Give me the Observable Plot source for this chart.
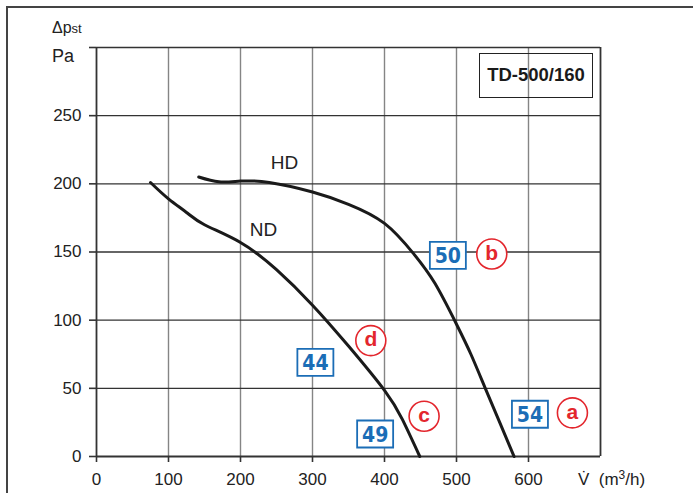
<!DOCTYPE html>
<html>
<head>
<meta charset="utf-8">
<script src="https://cdn.jsdelivr.net/npm/d3@7"></script>
<script src="https://cdn.jsdelivr.net/npm/@observablehq/plot@0.6"></script>
<style>
  body { margin: 0; background: #fff; }
  #wrap { position: relative; width: 693px; height: 493px; overflow: hidden; background: #fff;
          font-family: "Liberation Sans", Arial, sans-serif; color: #222; }
  .abs { position: absolute; white-space: nowrap; line-height: 1; }
</style>
</head>
<body>
<div id="wrap">
  <div id="chart" class="abs" style="left:0;top:0"></div>
  <div class="abs" style="left:6px;top:6px;width:700px;height:500px;border-left:2px solid #444;border-top:2px solid #444;pointer-events:none"></div>
  <div class="abs" style="left:52px;top:19.5px;font-size:16px">Δp<span style="font-size:13px">st</span></div>
  <div class="abs" style="left:52px;top:47px;font-size:18px">Pa</div>
  <div class="abs" style="left:578px;top:470.5px;font-size:17px">V̇&nbsp; (m<span style="font-size:12px;position:relative;top:-6px">3</span>/h)</div>
  <div class="abs" style="left:479px;top:53px;width:114px;height:45px;box-sizing:border-box;border:1.5px solid #222;display:flex;align-items:center;justify-content:center;font-weight:bold;font-size:18.5px;color:#1a1a1a">TD-500/160</div>
</div>
<script>
// Fan curves (x: air flow m3/h, y: static pressure Pa)
const hdX = [142, 170, 200, 240, 300, 350, 400, 440, 470, 500, 520, 540, 560, 580];
const hdY = [205, 201.5, 202, 201, 194, 185, 171, 149, 127, 97, 75, 50, 25, 0];
const ndX = [75, 100, 125, 150, 200, 250, 300, 350, 400, 425, 449];
const ndY = [201, 189, 179, 170, 157, 137, 111, 81, 48.5, 27, 0];

const curveNames = ["HD", "ND"];
const curveNameX = [261, 232];
const curveNameY = [215, 166];

// Sound level boxes
const boxLabels = ["50", "44", "49", "54"];
const boxX = [488, 304, 387, 602];
const boxY = [147.5, 69, 16.5, 31];

// Measurement point circles
const circleLabels = ["b", "d", "c", "a"];
const circleX = [549, 381, 455, 661];
const circleY = [148.5, 85, 29.5, 32];

const xTicks = [0, 100, 200, 300, 400, 500, 600];
const yTicks = [0, 50, 100, 150, 200, 250, 300];

const hd = hdX.map((x, i) => ({x, y: hdY[i]}));
const nd = ndX.map((x, i) => ({x, y: ndY[i]}));
const names = curveNames.map((t, i) => ({t, x: curveNameX[i], y: curveNameY[i]}));
const boxes = boxLabels.map((t, i) => ({t, x: boxX[i], y: boxY[i]}));
const circles = circleLabels.map((t, i) => ({t, x: circleX[i], y: circleY[i]}));

const BLUE = "#1b6db6", RED = "#e3262d";
const boxSymbol = { draw(ctx) { ctx.moveTo(-18, -13.5); ctx.lineTo(18, -13.5); ctx.lineTo(18, 13.5); ctx.lineTo(-18, 13.5); ctx.closePath(); } };

const chart = Plot.plot({
  width: 693,
  height: 493,
  marginLeft: 96,
  marginRight: 93,
  marginTop: 47,
  marginBottom: 37,
  style: { background: "transparent", fontFamily: "Liberation Sans, Arial, sans-serif", fontSize: "17px", color: "#222" },
  x: { domain: [0, 700] },
  y: { domain: [0, 300] },
  marks: [
    Plot.gridX(xTicks.filter(d => d > 0), { stroke: "#858585", strokeOpacity: 1, strokeWidth: 1.4 }),
    Plot.gridY(yTicks.filter(d => d > 0 && d < 300), { stroke: "#333", strokeOpacity: 1, strokeWidth: 1.4 }),
    Plot.ruleY([300], { stroke: "#333", strokeWidth: 1.6 }),
    Plot.ruleX([700], { stroke: "#333", strokeWidth: 1.8 }),
    Plot.ruleX([0], { stroke: "#333", strokeWidth: 1.8 }),
    Plot.ruleY([0], { stroke: "#333", strokeWidth: 1.8 }),
    Plot.axisX({ ticks: xTicks, tickSize: 6, tickPadding: 10, label: null, stroke: "#333", strokeWidth: 1.6, fill: "#222" }),
    Plot.axisY({ ticks: yTicks, tickSize: 7, tickPadding: 8, label: null, tickFormat: d => d === 300 ? "" : d, stroke: "#333", strokeWidth: 1.6, fill: "#222" }),
    Plot.line(hd, { x: "x", y: "y", curve: "natural", stroke: "#1a1a1a", strokeWidth: 3 }),
    Plot.line(nd, { x: "x", y: "y", curve: "natural", stroke: "#1a1a1a", strokeWidth: 3 }),
    Plot.text(names, { x: "x", y: "y", text: "t", fontSize: 19, fill: "#222" }),
    Plot.dot(boxes, { x: "x", y: "y", symbol: boxSymbol, r: 10, fill: "white", stroke: BLUE, strokeWidth: 1.8 }),
    Plot.text(boxes, { x: "x", y: "y", text: "t", fill: BLUE, fontWeight: "bold", fontSize: 21, fontFamily: "Liberation Sans Narrow, DejaVu Sans Condensed, sans-serif", dy: 1 }),
    Plot.dot(circles, { x: "x", y: "y", r: 15, fill: "white", stroke: RED, strokeWidth: 1.6 }),
    Plot.text(circles, { x: "x", y: "y", text: "t", fill: RED, fontWeight: "bold", fontSize: 21, dy: -1 })
  ]
});
document.getElementById("chart").appendChild(chart);
</script>
</body>
</html>
